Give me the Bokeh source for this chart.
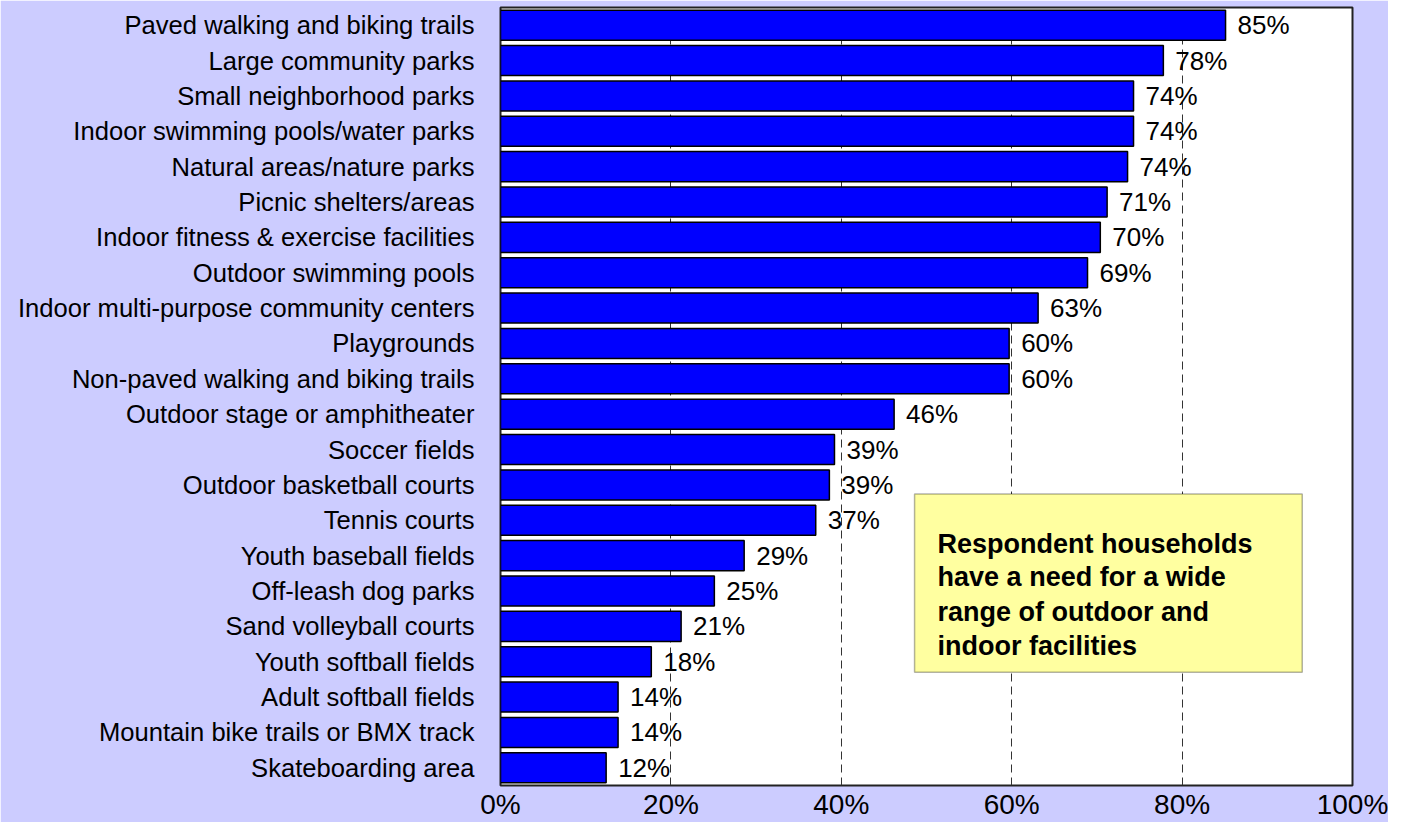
from bokeh.plotting import figure
from bokeh.models import Range1d, FixedTicker, BoxAnnotation, Label, PrintfTickFormatter
from bokeh.core.properties import value
from bokeh.embed import file_html
from bokeh.resources import INLINE

categories = [
    "Paved walking and biking trails",
    "Large community parks",
    "Small neighborhood parks",
    "Indoor swimming pools/water parks",
    "Natural areas/nature parks",
    "Picnic shelters/areas",
    "Indoor fitness & exercise facilities",
    "Outdoor swimming pools",
    "Indoor multi-purpose community centers",
    "Playgrounds",
    "Non-paved walking and biking trails",
    "Outdoor stage or amphitheater",
    "Soccer fields",
    "Outdoor basketball courts",
    "Tennis courts",
    "Youth baseball fields",
    "Off-leash dog parks",
    "Sand volleyball courts",
    "Youth softball fields",
    "Adult softball fields",
    "Mountain bike trails or BMX track",
    "Skateboarding area",
]
values = [85.1, 77.8, 74.3, 74.3, 73.6, 71.2, 70.4, 68.9, 63.1, 59.7, 59.7,
          46.2, 39.2, 38.6, 37.0, 28.6, 25.1, 21.2, 17.7, 13.8, 13.8, 12.4]
labels = [f"{round(v)}%" for v in values]
x_ticks = [0, 20, 40, 60, 80, 100]
note_lines = [
    "Respondent households",
    "have a need for a wide",
    "range of outdoor and",
    "indoor facilities",
]

FONT = "Liberation Sans"
n = len(categories)
ypos = [n - i - 0.5 for i in range(n)]

p = figure(width=1388, height=822, x_range=Range1d(0, 100), y_range=Range1d(0, n),
           output_backend="svg", toolbar_location=None,
           min_border_left=500, min_border_right=36, min_border_top=7, min_border_bottom=34)

p.border_fill_color = "#CCCCFF"
p.background_fill_color = "white"
p.outline_line_color = "#222222"
p.outline_line_width = 2

p.hbar(y=ypos, left=0, right=values, height=0.85,
       fill_color="#0000FF", line_color="black", line_width=1.5)

p.text(x=values, y=ypos, text=labels, x_offset=12, text_baseline="middle",
       text_align="left", text_font=value(FONT), text_font_size="26px", text_color="black")

# y axis
p.yaxis.ticker = FixedTicker(ticks=ypos)
p.yaxis.major_label_overrides = {y: c for y, c in zip(ypos, categories)}
p.yaxis.major_label_text_font = FONT
p.yaxis.major_label_text_font_size = "25.6px"
p.yaxis.major_label_text_color = "black"
p.yaxis.major_label_standoff = 26
p.yaxis.axis_line_color = None
p.yaxis.major_tick_line_color = None
p.yaxis.minor_tick_line_color = None
p.yaxis.major_tick_out = 0
p.yaxis.major_tick_in = 0
p.yaxis.minor_tick_out = 0

# x axis
p.xaxis.ticker = FixedTicker(ticks=x_ticks)
p.xaxis.formatter = PrintfTickFormatter(format="%d%%")
p.xaxis.major_label_text_font = FONT
p.xaxis.major_label_text_font_size = "28px"
p.xaxis.major_label_text_color = "black"
p.xaxis.major_label_standoff = 3
p.xaxis.axis_line_color = None
p.xaxis.major_tick_line_color = None
p.xaxis.minor_tick_line_color = None
p.xaxis.major_tick_out = 0
p.xaxis.major_tick_in = 0
p.xaxis.minor_tick_out = 0

p.ygrid.grid_line_color = None
p.xgrid.grid_line_color = "#333333"
p.xgrid.grid_line_dash = "8 5"
p.xgrid.grid_line_width = 1

# annotation box
box = BoxAnnotation(left=48.6, right=94.1, bottom=3.2, top=8.24,
                    fill_color="#FFFFA0", fill_alpha=1.0,
                    line_color="black", line_width=1.5, level="overlay")
p.add_layout(box)

line_y = [6.84, 5.90, 4.90, 3.95]
for t, yy in zip(note_lines, line_y):
    p.add_layout(Label(x=51.3, y=yy, text=t, text_font=FONT, text_font_size="27px",
                       text_font_style="bold", text_color="black",
                       text_baseline="alphabetic", level="overlay"))

open("out.html", "w").write(file_html(p, INLINE))
